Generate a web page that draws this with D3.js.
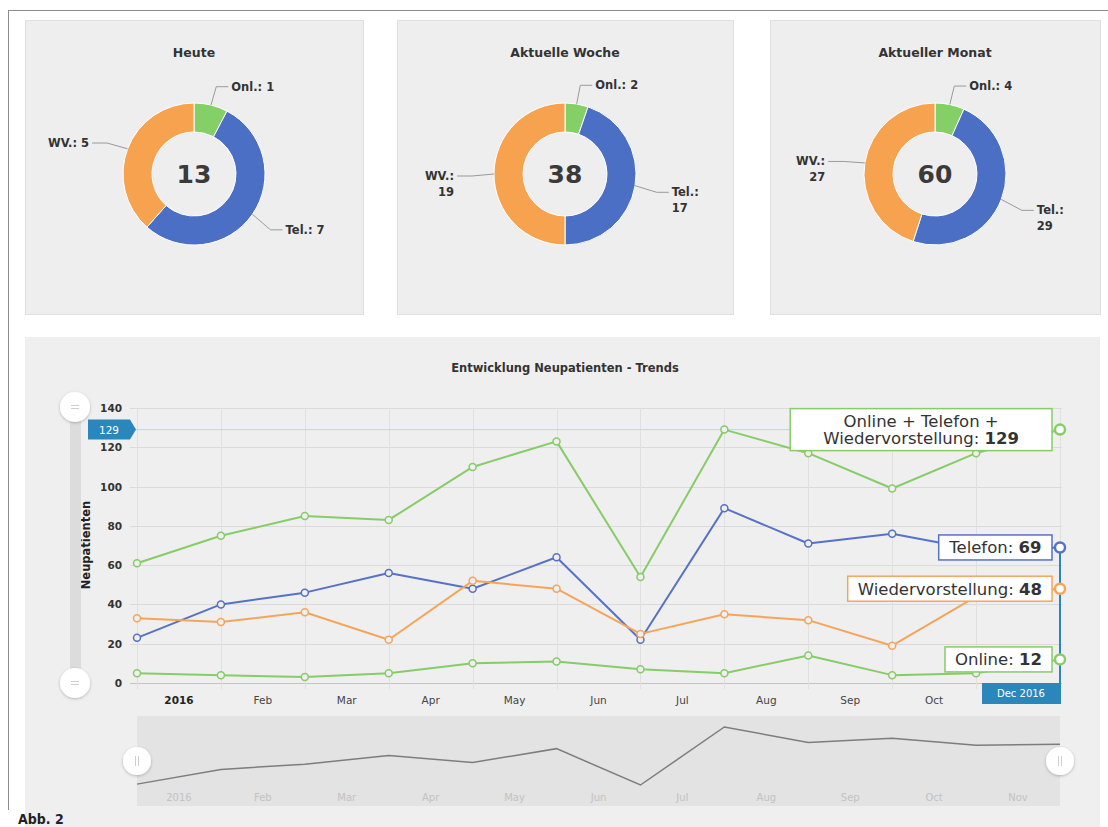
<!DOCTYPE html>
<html>
<head>
<meta charset="utf-8">
<script src="https://cdn.jsdelivr.net/npm/d3@7"></script>
<style>
  body { margin: 0; background: #fff; }
  svg { display: block; font-family: "DejaVu Sans", Verdana, sans-serif; }
</style>
</head>
<body>
<svg id="chart" width="1108" height="827"></svg>
<script>
// --- data ---
const donutTitles = ["Heute", "Aktuelle Woche", "Aktueller Monat"];
const donutKeys = ["Onl.", "Tel.", "WV."];
const donutOnline = [1, 2, 4];
const donutTelefon = [7, 17, 29];
const donutWV = [5, 19, 27];

const months = ["Jan", "Feb", "Mar", "Apr", "May", "Jun", "Jul", "Aug", "Sep", "Oct", "Nov", "Dec"];
const tickLabels = ["2016", "Feb", "Mar", "Apr", "May", "Jun", "Jul", "Aug", "Sep", "Oct", "Nov"];
const yTicks = [0, 20, 40, 60, 80, 100, 120, 140];
const gesamt = [61, 75, 85, 83, 110, 123, 54, 129, 117, 99, 117, 129];
const telefon = [23, 40, 46, 56, 48, 64, 22, 89, 71, 76, 68, 69];
const wiedervorstellung = [33, 31, 36, 22, 52, 48, 25, 35, 32, 19, 44, 48];
const online = [5, 4, 3, 5, 10, 11, 7, 5, 14, 4, 5, 12];

const GREEN = "#86cc68", BLUE = "#5672c6", ORANGE = "#f5a55a", TAG = "#2b87bb";
const donutColors = ["#84d067", "#4a6fc5", "#f6a24f"];

const svg = d3.select("#chart");
const defs = svg.append("defs");
const shadow = defs.append("filter").attr("id", "shadow")
    .attr("x", "-50%").attr("y", "-50%").attr("width", "200%").attr("height", "200%");
shadow.append("feDropShadow").attr("dx", 0).attr("dy", 1).attr("stdDeviation", 1.5)
    .attr("flood-color", "#000").attr("flood-opacity", 0.25);

// page frame
svg.append("line").attr("x1", 8).attr("x2", 1108).attr("y1", 10.5).attr("y2", 10.5)
    .attr("stroke", "#8c8c8c");
svg.append("line").attr("x1", 8.5).attr("x2", 8.5).attr("y1", 10).attr("y2", 810)
    .attr("stroke", "#8c8c8c");

// --- donut panels ---
const panelX = [25, 397, 770];
const panelW = [338, 336, 330];
const arc = d3.arc().innerRadius(42).outerRadius(71);
const pie = d3.pie().sort(null).value(d => d.v);

donutTitles.forEach((title, i) => {
    const px = panelX[i], pw = panelW[i];
    const cx = px + pw / 2, cy = 174;
    const g = svg.append("g");
    g.append("rect").attr("x", px + 0.5).attr("y", 20.5).attr("width", pw).attr("height", 294)
        .attr("fill", "#eeeeee").attr("stroke", "#e0e0e0");
    g.append("text").attr("x", cx).attr("y", 57).attr("text-anchor", "middle")
        .attr("font-size", "12.5px").attr("font-weight", "bold").attr("fill", "#333")
        .text(title);

    const slices = [
        { k: donutKeys[0], v: donutOnline[i], c: donutColors[0] },
        { k: donutKeys[1], v: donutTelefon[i], c: donutColors[1] },
        { k: donutKeys[2], v: donutWV[i], c: donutColors[2] }
    ];
    const dg = g.append("g").attr("transform", `translate(${cx},${cy})`);
    dg.selectAll("path").data(pie(slices)).join("path")
        .attr("d", arc).attr("fill", d => d.data.c)
        .attr("stroke", "#fff").attr("stroke-width", 1);

    dg.append("text").attr("y", 9).attr("text-anchor", "middle")
        .attr("font-size", "25px").attr("font-weight", "bold").attr("fill", "#3a3a3a")
        .text(d3.sum(slices, d => d.v));

    // data labels with connectors
    pie(slices).forEach(d => {
        const a = (d.startAngle + d.endAngle) / 2;
        const sx = Math.sin(a), sy = -Math.cos(a);
        const e = [71 * sx, 71 * sy], p = [93 * sx, 93 * sy + (sx < 0 ? 2 : 3)];
        const right = sx >= 0;
        const end = p[0] + (right ? 12 : -15);
        dg.append("path")
            .attr("d", `M${e[0]},${e[1]}L${p[0]},${p[1]}L${end},${p[1]}`)
            .attr("fill", "none").attr("stroke", "#9a9a9a").attr("stroke-width", 1);
        const t = dg.append("text")
            .attr("text-anchor", right ? "start" : "end")
            .attr("font-size", "11.5px").attr("font-weight", "bold").attr("fill", "#333");
        const lx = end + (right ? 3 : -3);
        if (d.data.v >= 10) {
            t.append("tspan").attr("x", lx).attr("y", p[1] + 4).text(d.data.k + ":");
            t.append("tspan").attr("x", lx).attr("y", p[1] + 20).text(d.data.v);
        } else {
            t.attr("x", lx).attr("y", p[1] + 4).text(`${d.data.k}: ${d.data.v}`);
        }
    });
});

// --- trend panel ---
svg.append("rect").attr("x", 25).attr("y", 337).attr("width", 1075).attr("height", 500)
    .attr("fill", "#efefef");
svg.append("text").attr("x", 565).attr("y", 372).attr("text-anchor", "middle")
    .attr("font-size", "11.5px").attr("font-weight", "bold").attr("fill", "#333")
    .text("Entwicklung Neupatienten - Trends");

const x = d3.scalePoint().domain(months).range([137, 1060]);
const y = d3.scaleLinear().domain([0, 140]).range([683, 408]);
const plotL = 130, plotR = 1062;

// grid
svg.append("g").selectAll("line").data(yTicks).join("line")
    .attr("x1", plotL).attr("x2", plotR)
    .attr("y1", d => Math.round(y(d)) + 0.5).attr("y2", d => Math.round(y(d)) + 0.5)
    .attr("stroke", d => d === 0 ? "#c4c4c4" : "#dadada");
svg.append("g").selectAll("line").data(months).join("line")
    .attr("x1", d => Math.round(x(d)) + 0.5).attr("x2", d => Math.round(x(d)) + 0.5)
    .attr("y1", y(140)).attr("y2", y(0) + 6)
    .attr("stroke", "#e0e0e0");

// y axis labels
svg.append("g").selectAll("text").data(yTicks).join("text")
    .attr("x", 122).attr("y", d => y(d) + 4).attr("text-anchor", "end")
    .attr("font-size", "10.5px").attr("font-weight", "bold").attr("fill", "#333")
    .text(d => d);
svg.append("text").attr("transform", "translate(90,545) rotate(-90)")
    .attr("text-anchor", "middle").attr("font-size", "11.5px").attr("font-weight", "bold")
    .attr("fill", "#222").text("Neupatienten");

// x axis labels between the month points (the last one sits under the Dec 2016 tag)
svg.append("g").selectAll("text").data(tickLabels.slice(0, -1)).join("text")
    .attr("x", (d, i) => (x(months[i]) + x(months[i + 1])) / 2)
    .attr("y", 704).attr("text-anchor", "middle")
    .attr("font-size", "10.5px")
    .attr("font-weight", (d, i) => i === 0 ? "bold" : "normal")
    .attr("fill", (d, i) => i === 0 ? "#222" : "#444")
    .text(d => d);

// crosshair at 129
const last = months.length - 1;
svg.append("line").attr("x1", plotL).attr("x2", plotR)
    .attr("y1", y(gesamt[last])).attr("y2", y(gesamt[last]))
    .attr("stroke", "#bcd8ea").attr("stroke-width", 1);

// series
const series = [
    { name: "Online + Telefon + Wiedervorstellung", lines: ["Online + Telefon +", "Wiedervorstellung: "], values: gesamt, color: GREEN },
    { name: "Telefon", lines: ["Telefon: "], values: telefon, color: BLUE },
    { name: "Wiedervorstellung", lines: ["Wiedervorstellung: "], values: wiedervorstellung, color: ORANGE },
    { name: "Online", lines: ["Online: "], values: online, color: GREEN }
];
const line = d3.line().x((d, i) => x(months[i])).y(d => y(d));

series.forEach(s => {
    svg.append("path").attr("d", line(s.values)).attr("fill", "none")
        .attr("stroke", s.color).attr("stroke-width", 2).attr("stroke-linejoin", "round");
    svg.append("g").selectAll("circle").data(s.values.slice(0, last)).join("circle")
        .attr("cx", (d, i) => x(months[i])).attr("cy", d => y(d)).attr("r", 3.5)
        .attr("fill", "#efefef").attr("stroke", s.color).attr("stroke-width", 1.5);
});

// vertical crosshair at Dec
svg.append("line").attr("x1", x("Dec")).attr("x2", x("Dec"))
    .attr("y1", y(telefon[last])).attr("y2", 684)
    .attr("stroke", TAG).attr("stroke-width", 2);

// tooltip boxes
series.forEach(s => {
    const v = s.values[last];
    const g = svg.append("g");
    const box = g.append("rect");
    const t = g.append("text").attr("font-size", "16.5px").attr("fill", "#333")
        .attr("text-anchor", "middle");
    const n = s.lines.length;
    const cy = y(v);
    s.lines.forEach((ln, k) => {
        const ts = t.append("tspan").attr("x", 0).attr("y", cy + 6 + (k - (n - 1) / 2) * 17).text(ln);
        if (k === n - 1) ts.append("tspan").attr("font-weight", "bold").text(v);
    });
    const bb = t.node().getBBox();
    const w = bb.width + (n > 1 ? 66 : 20), h = n * 17 + 8;
    const rx = x("Dec") - 8 - w;
    t.attr("transform", `translate(${rx + w / 2},0)`);
    box.attr("x", rx).attr("y", cy - h / 2).attr("width", w).attr("height", h)
        .attr("fill", "#fff").attr("stroke", s.color).attr("stroke-width", 1.5);
    svg.append("circle").attr("cx", x("Dec")).attr("cy", cy).attr("r", 5)
        .attr("fill", "#fff").attr("stroke", s.color).attr("stroke-width", 2.5);
});

// y value tag
const ty = y(gesamt[last]);
svg.append("path")
    .attr("d", `M88,${ty - 10}H130L136,${ty}L130,${ty + 10}H88Z`)
    .attr("fill", TAG);
svg.append("text").attr("x", 109).attr("y", ty + 4).attr("text-anchor", "middle")
    .attr("font-size", "10.5px").attr("fill", "#fff").text(gesamt[last]);

// x value tag
svg.append("rect").attr("x", 982).attr("y", 683).attr("width", x("Dec") + 1 - 982).attr("height", 21)
    .attr("fill", TAG);
svg.append("text").attr("x", (982 + x("Dec")) / 2).attr("y", 697).attr("text-anchor", "middle")
    .attr("font-size", "10px").attr("fill", "#fff").text("Dec 2016");

// y scrollbar (left)
svg.append("rect").attr("x", 70).attr("y", 407).attr("width", 11).attr("height", 276)
    .attr("rx", 5).attr("fill", "#dcdcdc");
[407, 683].forEach(cy => {
    svg.append("circle").attr("cx", 75).attr("cy", cy).attr("r", 15)
        .attr("fill", "#fff").attr("filter", "url(#shadow)");
    svg.append("path").attr("d", `M71,${cy - 1.5}H79M71,${cy + 1.5}H79`)
        .attr("stroke", "#cfcfcf").attr("stroke-width", 1);
});

// navigator
const nav = svg.append("g");
nav.append("rect").attr("x", 137).attr("y", 716).attr("width", 923).attr("height", 90)
    .attr("fill", "#e3e3e3");
const ny = d3.scaleLinear().domain(d3.extent(telefon)).range([785, 727]);
nav.append("path")
    .attr("d", d3.line().x((d, i) => x(months[i])).y(d => ny(d))(telefon))
    .attr("fill", "none").attr("stroke", "#7d7d7d").attr("stroke-width", 1.5);
nav.selectAll("text").data(tickLabels).join("text")
    .attr("x", (d, i) => (x(months[i]) + x(months[i + 1])) / 2)
    .attr("y", 801).attr("text-anchor", "middle")
    .attr("font-size", "10px").attr("fill", "#c2c2c2")
    .text(d => d);
[137, 1060].forEach(cx => {
    nav.append("circle").attr("cx", cx).attr("cy", 761).attr("r", 14)
        .attr("fill", "#fff").attr("filter", "url(#shadow)");
    nav.append("path").attr("d", `M${cx - 1.5},${756}V${766}M${cx + 1.5},${756}V${766}`)
        .attr("stroke", "#cfcfcf").attr("stroke-width", 1);
});

// caption
svg.append("text").attr("x", 18).attr("y", 824)
    .attr("font-family", "'Liberation Sans Narrow', 'DejaVu Sans Condensed', sans-serif")
    .attr("font-size", "14px").attr("font-weight", "bold").attr("fill", "#222")
    .text("Abb. 2");
</script>
</body>
</html>
